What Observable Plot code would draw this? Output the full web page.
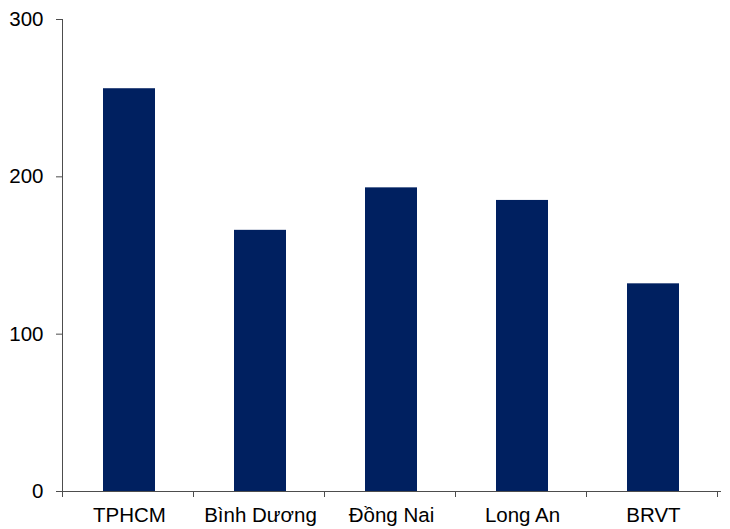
<!DOCTYPE html>
<html>
<head>
<meta charset="utf-8">
<script src="https://cdn.jsdelivr.net/npm/d3@7"></script>
<script src="https://cdn.jsdelivr.net/npm/@observablehq/plot@0.6"></script>
<style>
  html, body { margin: 0; padding: 0; background: #fff; }
  #chart svg { display: block; }
</style>
</head>
<body>
<div id="chart"></div>
<script>
const categories = ["TPHCM", "Bình Dương", "Đồng Nai", "Long An", "BRVT"];
const values = [256, 166, 193, 185, 132];
const yTicks = [0, 100, 200, 300];

const data = categories.map((c, i) => ({category: c, value: values[i]}));
const axisColor = "#4d4d4d";

const chart = Plot.plot({
  width: 730,
  height: 529,
  marginLeft: 62,
  marginRight: 9,
  marginTop: 19,
  marginBottom: 38,
  style: {fontFamily: "'Liberation Sans', Arial, sans-serif", fontSize: "20.5px", color: "#000", background: "#fff"},
  x: {domain: categories, paddingInner: 0.6, paddingOuter: 0.3, label: null},
  y: {domain: [0, 300], label: null},
  marks: [
    Plot.barY(data, {x: "category", y: "value", fill: "#002060"}),
    Plot.axisY({ticks: yTicks, tickSize: 6, tickPadding: 13, stroke: axisColor, fill: "#000", label: null}),
    Plot.axisX({tickSize: 0, tickPadding: 15.5, fill: "#000", label: null}),
    Plot.ruleY([0], {stroke: axisColor})
  ]
});

// vertical y axis line and category boundary ticks, derived from the scales
const xs = chart.scale("x");
const ys = chart.scale("y");
const svg = d3.select(chart);
const y0 = ys.apply(0);
const yTop = ys.apply(300);
const left = xs.range[0];
svg.append("line")
  .attr("x1", left + 0.5).attr("x2", left + 0.5)
  .attr("y1", yTop).attr("y2", y0)
  .attr("stroke", axisColor);
for (let i = 0; i <= categories.length; i++) {
  const bx = left + i * xs.step;
  svg.append("line")
    .attr("x1", bx + 0.5).attr("x2", bx + 0.5)
    .attr("y1", y0).attr("y2", y0 + 6)
    .attr("stroke", axisColor);
}
document.getElementById("chart").appendChild(chart);
</script>
</body>
</html>
